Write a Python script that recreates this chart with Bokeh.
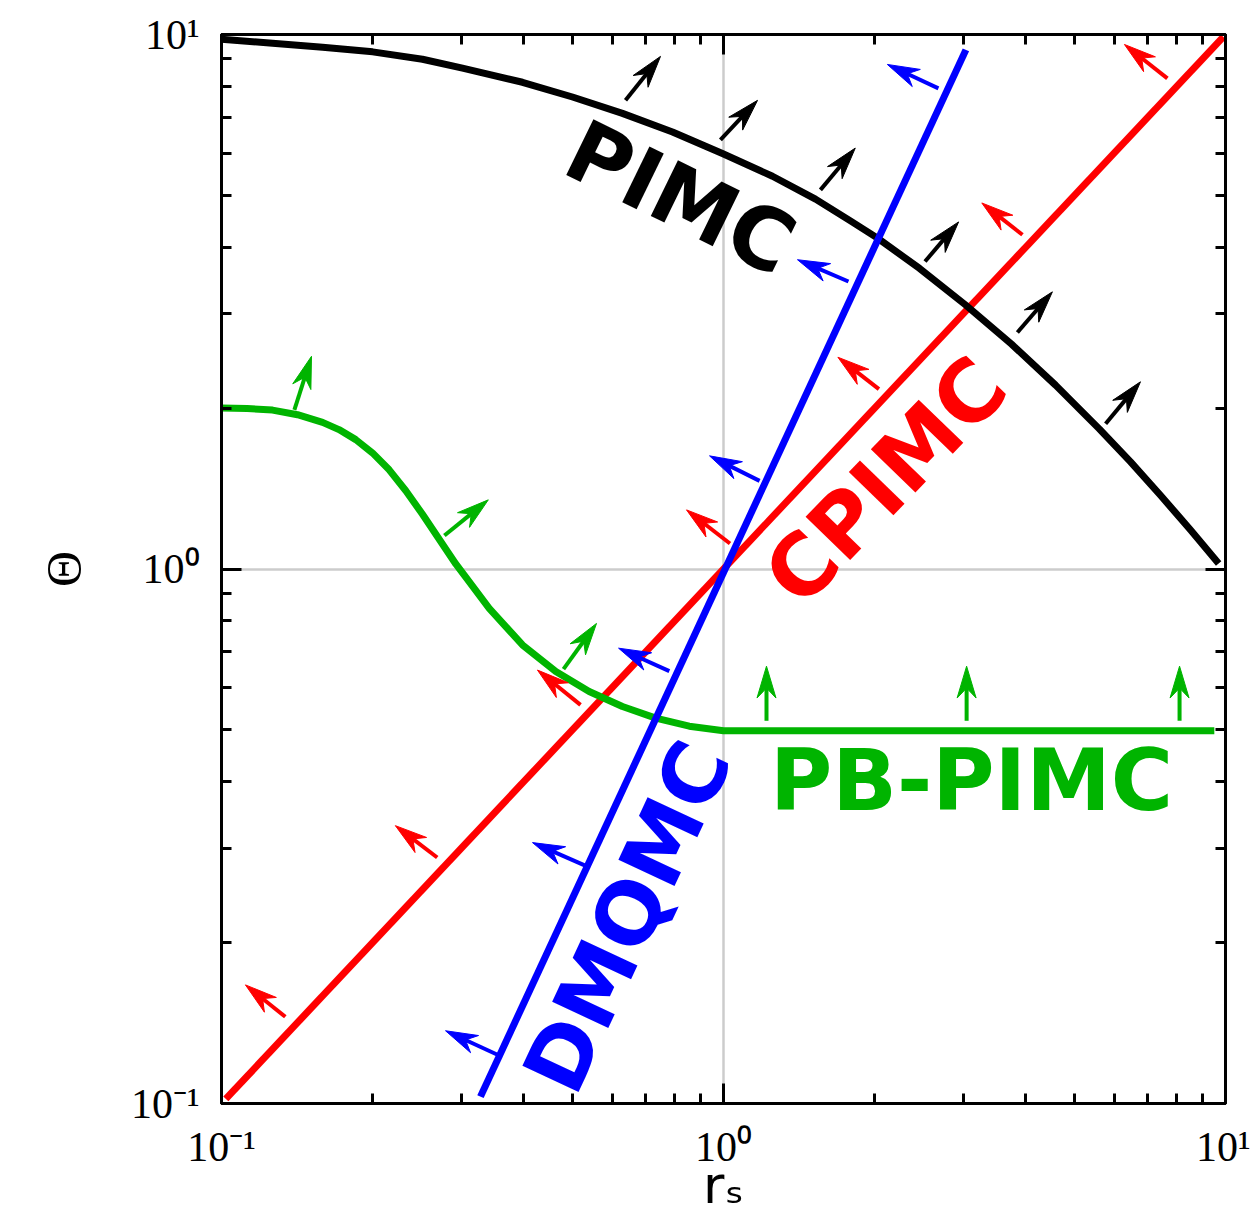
import math
from bokeh.plotting import figure
from bokeh.models import LogAxis, FixedTicker, CustomJSTickFormatter, Range1d, ColumnDataSource
from bokeh.core.properties import value
from bokeh.embed import file_html
from bokeh.resources import INLINE

# ---------------- data ----------------
major_ticks = [0.1, 1, 10]
minor_ticks = [0.2, 0.3, 0.4, 0.5, 0.6, 0.7, 0.8, 0.9, 2, 3, 4, 5, 6, 7, 8, 9]
tick_labels = {0.1: "10\u207b\u00b9", 1: "10\u2070", 10: "10\u00b9"}

pimc_rs = [0.1, 0.1264, 0.159, 0.2, 0.2514, 0.302, 0.3977, 0.5002, 0.629, 0.7915, 0.995,
           1.252, 1.525, 1.79, 2.027, 2.458, 3.034, 3.748, 4.586, 5.61, 6.47, 7.42, 8.52, 9.69]
pimc_theta = [9.8, 9.63, 9.47, 9.28, 8.99, 8.65, 8.14, 7.64, 7.12, 6.57, 5.99,
              5.43, 4.92, 4.48, 4.16, 3.65, 3.12, 2.634, 2.208, 1.827, 1.586, 1.374, 1.183, 1.024]

cpimc_rs = [0.102, 9.9]
cpimc_theta = [0.102, 9.9]

dmqmc_rs = [0.328, 3.04]
dmqmc_theta = [0.103, 9.36]

pbpimc_rs = [0.1, 0.1125, 0.1264, 0.1417, 0.159, 0.1714, 0.1851, 0.1999, 0.2158, 0.2329, 0.2514,
             0.2929, 0.3414, 0.3977, 0.4634, 0.54, 0.629, 0.733, 0.8545, 1.0, 9.5]
pbpimc_theta = [2.0, 1.996, 1.983, 1.944, 1.881, 1.823, 1.746, 1.649, 1.533, 1.401, 1.266,
                1.022, 0.844, 0.721, 0.643, 0.590, 0.553, 0.526, 0.508, 0.498, 0.498]

# arrows: start (rs, theta) -> tip (rs, theta)
black_arrow_rs0 = [0.638, 0.986, 1.56, 2.52, 3.85, 5.77]
black_arrow_th0 = [7.53, 6.35, 5.12, 3.76, 2.77, 1.87]
black_arrow_rs1 = [0.749, 1.169, 1.83, 2.94, 4.52, 6.77]
black_arrow_th1 = [9.10, 7.53, 6.13, 4.46, 3.30, 2.24]

red_arrow_rs0 = [7.66, 3.94, 2.04, 1.03, 0.519, 0.269, 0.134]
red_arrow_th0 = [8.28, 4.22, 2.17, 1.116, 0.557, 0.2886, 0.1453]
red_arrow_rs1 = [6.29, 3.27, 1.69, 0.844, 0.426, 0.222, 0.1116]
red_arrow_th1 = [9.58, 4.84, 2.49, 1.29, 0.647, 0.331, 0.1667]

blue_arrow_rs0 = [2.68, 1.774, 1.18, 0.78, 0.529, 0.3547]
blue_arrow_th0 = [7.93, 3.45, 1.462, 0.644, 0.279, 0.1234]
blue_arrow_rs1 = [2.12, 1.404, 0.938, 0.618, 0.4164, 0.2794]
blue_arrow_th1 = [8.79, 3.79, 1.628, 0.711, 0.3077, 0.1368]

green_arrow_rs0 = [0.1397, 0.278, 0.480, 1.218, 3.05, 8.10]
green_arrow_th0 = [1.984, 1.155, 0.6496, 0.52, 0.52, 0.52]
green_arrow_rs1 = [0.1511, 0.340, 0.5585, 1.218, 3.05, 8.10]
green_arrow_th1 = [2.50, 1.347, 0.791, 0.658, 0.658, 0.658]

label_text = ["PIMC", "CPIMC", "DMQMC", "PB-PIMC"]
label_rs = [0.821, 2.103, 0.644, 3.12]
label_theta = [4.95, 1.462, 0.2234, 0.4017]
label_angle_deg = [-26, 46, 65, 0]
label_color = ["#000000", "#ff0000", "#0000ff", "#00b400"]

# ---------------- figure ----------------
FRAME_W, FRAME_H = 1004, 1073
p = figure(width=1250, height=1217, x_axis_type="log", y_axis_type="log",
           x_range=Range1d(0.1, 10), y_range=Range1d(0.1, 10),
           output_backend="svg", toolbar_location=None,
           min_border_left=221, min_border_right=25, min_border_top=34, min_border_bottom=110,
           background_fill_color="white", border_fill_color="white")
p.outline_line_color = "black"
p.outline_line_width = 3

bottom = p.below[0]
left = p.left[0]
right = LogAxis(formatter=CustomJSTickFormatter(code="return ''"))
top = LogAxis(formatter=CustomJSTickFormatter(code="return ''"))
p.add_layout(right, "right")
p.add_layout(top, "above")

for ax in (bottom, left, right, top):
    ax.ticker = FixedTicker(ticks=major_ticks, minor_ticks=minor_ticks)
    ax.axis_line_width = 3
    ax.major_tick_in = 20
    ax.major_tick_out = 0
    ax.minor_tick_in = 10
    ax.minor_tick_out = 0
    ax.major_tick_line_width = 3
    ax.minor_tick_line_width = 3
    ax.major_label_standoff = 0

for ax in (bottom, left):
    ax.major_label_overrides = tick_labels
    ax.major_label_text_font = "Liberation Serif"
    ax.major_label_text_font_size = "42px"
    ax.major_label_text_color = "black"
    ax.axis_label_text_color = "black"
    ax.axis_label_text_font_style = "normal"

bottom.major_label_standoff = 20
left.major_label_standoff = 22
bottom.axis_label = "r\u209b"
bottom.axis_label_text_font = "DejaVu Sans"
bottom.axis_label_text_font_size = "52px"
bottom.axis_label_standoff = -18
left.axis_label = "\u0398"
left.axis_label_text_font = "Liberation Serif"
left.axis_label_text_font_size = "50px"
left.axis_label_standoff = 36

p.xgrid.ticker = FixedTicker(ticks=[1])
p.ygrid.ticker = FixedTicker(ticks=[1])
p.grid.grid_line_color = "#cccccc"
p.grid.grid_line_width = 2.5

# ---------------- curves ----------------
LW = 7
p.line(cpimc_rs, cpimc_theta, line_color="#ff0000", line_width=LW)
p.line(pbpimc_rs, pbpimc_theta, line_color="#00b400", line_width=LW, line_join="round")
p.line(pimc_rs, pimc_theta, line_color="#000000", line_width=LW, line_join="round")
p.line(dmqmc_rs, dmqmc_theta, line_color="#0000ff", line_width=LW)

# ---------------- arrows ----------------
SX = FRAME_W / 2.0   # pixels per decade
SY = FRAME_H / 2.0
HEAD_L, HEAD_W, HEAD_N = 32.0, 9.5, 22.0


def arrow_geometry(rs0, th0, rs1, th1):
    sx_, sy_, hx, hy = [], [], [], []
    for a, b, c, d in zip(rs0, th0, rs1, th1):
        u0, v0 = math.log10(a) * SX, math.log10(b) * SY
        u1, v1 = math.log10(c) * SX, math.log10(d) * SY
        L = math.hypot(u1 - u0, v1 - v0)
        dx, dy = (u1 - u0) / L, (v1 - v0) / L
        nx, ny = -dy, dx
        pts = [(u1, v1),
               (u1 - HEAD_L * dx + HEAD_W * nx, v1 - HEAD_L * dy + HEAD_W * ny),
               (u1 - HEAD_N * dx, v1 - HEAD_N * dy),
               (u1 - HEAD_L * dx - HEAD_W * nx, v1 - HEAD_L * dy - HEAD_W * ny)]
        hx.append([10 ** (u / SX) for u, v in pts])
        hy.append([10 ** (v / SY) for u, v in pts])
        ue, ve = u1 - (HEAD_N - 3) * dx, v1 - (HEAD_N - 3) * dy
        sx_.append([a, 10 ** (ue / SX)])
        sy_.append([b, 10 ** (ve / SY)])
    return sx_, sy_, hx, hy


for col, arrs in [("#000000", (black_arrow_rs0, black_arrow_th0, black_arrow_rs1, black_arrow_th1)),
                  ("#ff0000", (red_arrow_rs0, red_arrow_th0, red_arrow_rs1, red_arrow_th1)),
                  ("#0000ff", (blue_arrow_rs0, blue_arrow_th0, blue_arrow_rs1, blue_arrow_th1)),
                  ("#00b400", (green_arrow_rs0, green_arrow_th0, green_arrow_rs1, green_arrow_th1))]:
    sxs, sys_, hxs, hys = arrow_geometry(*arrs)
    p.multi_line(sxs, sys_, line_color=col, line_width=4)
    p.patches(hxs, hys, fill_color=col, line_color=col, line_width=1)

# ---------------- labels ----------------
src = ColumnDataSource(dict(x=label_rs, y=label_theta, text=label_text,
                            angle=[math.radians(a) for a in label_angle_deg], color=label_color))
p.text(x="x", y="y", text="text", angle="angle", text_color="color", source=src,
       text_font=value("DejaVu Sans"), text_font_style="bold", text_font_size="85px",
       text_align="center", text_baseline="middle")

open("out.html", "w").write(file_html(p, INLINE))
